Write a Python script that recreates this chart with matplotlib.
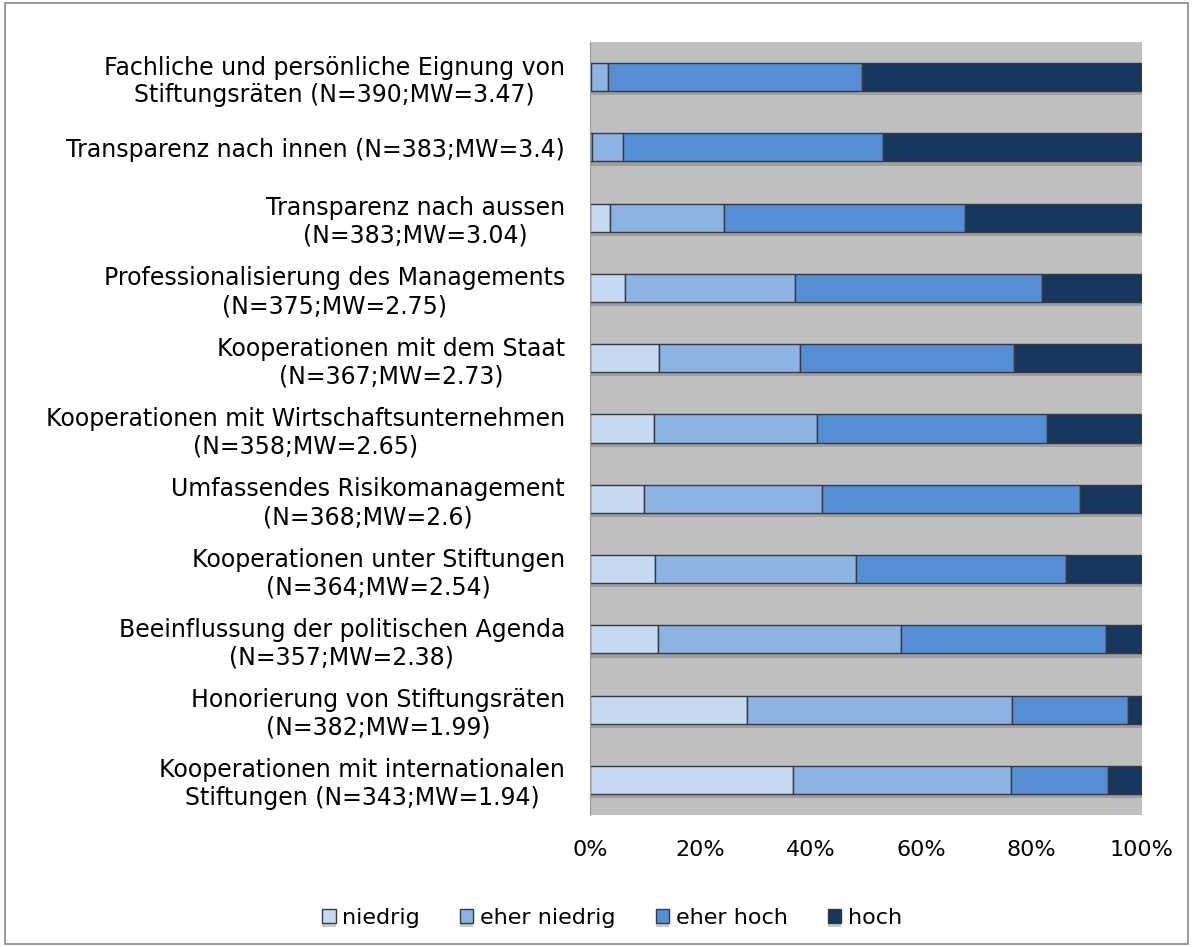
import numpy as np
import matplotlib
matplotlib.use('Agg')
import matplotlib.pyplot as plt
import matplotlib.patheffects as pe
from matplotlib.patches import Rectangle

# categories, top to bottom
labels = [
    "Fachliche und persönliche Eignung von\nStiftungsräten (N=390;MW=3.47)",
    "Transparenz nach innen (N=383;MW=3.4)",
    "Transparenz nach aussen\n(N=383;MW=3.04)",
    "Professionalisierung des Managements\n(N=375;MW=2.75)",
    "Kooperationen mit dem Staat\n(N=367;MW=2.73)",
    "Kooperationen mit Wirtschaftsunternehmen\n(N=358;MW=2.65)",
    "Umfassendes Risikomanagement\n(N=368;MW=2.6)",
    "Kooperationen unter Stiftungen\n(N=364;MW=2.54)",
    "Beeinflussung der politischen Agenda\n(N=357;MW=2.38)",
    "Honorierung von Stiftungsräten\n(N=382;MW=1.99)",
    "Kooperationen mit internationalen\nStiftungen (N=343;MW=1.94)",
]

# shares in percent
niedrig      = [0.2, 0.4, 3.6, 6.4, 12.5, 11.6, 9.7, 11.8, 12.3, 28.4, 36.7]
eher_niedrig = [3.0, 5.5, 20.6, 30.8, 25.6, 29.6, 32.3, 36.4, 44.0, 48.0, 39.6]
eher_hoch    = [46.1, 47.2, 43.8, 44.6, 38.8, 41.6, 46.8, 38.1, 37.1, 21.0, 17.6]
hoch         = [50.7, 46.9, 32.0, 18.2, 23.1, 17.2, 11.2, 13.7, 6.6, 2.6, 6.1]

series = [("niedrig", niedrig, "#c6d9f1"),
          ("eher niedrig", eher_niedrig, "#8db3e2"),
          ("eher hoch", eher_hoch, "#558ed5"),
          ("hoch", hoch, "#17375e")]

plt.rcParams['font.family'] = ['DejaVu Sans']

fig = plt.figure(figsize=(11.93, 9.47), dpi=100)
ax = fig.add_axes([590/1193, 1 - 815/947, 552/1193, 773/947])
ax.set_facecolor("#bfbfbf")

y = np.arange(len(labels))
left = np.zeros(len(labels))
shadow = [pe.withSimplePatchShadow(offset=(0, -3), shadow_rgbFace='#666666', alpha=0.35)]
for name, vals, col in series:
    vals = np.array(vals)
    ax.barh(y, vals, left=left, height=0.4, color=col, edgecolor="#333a44",
            linewidth=1.0, label=name, path_effects=shadow)
    left += vals

ax.set_ylim(len(labels) - 0.5, -0.5)
ax.set_xlim(0, 100)
ax.set_xticks([0, 20, 40, 60, 80, 100])
ax.set_xticklabels(["0%", "20%", "40%", "60%", "80%", "100%"], fontsize=16)
ax.set_yticks(y)
ax.set_yticklabels(labels, fontsize=17, ha='right', multialignment='center',
                   linespacing=1.2)
ax.tick_params(axis='both', length=0)
ax.tick_params(axis='x', pad=18)
ax.tick_params(axis='y', pad=18)
for s in ['top', 'right', 'bottom']:
    ax.spines[s].set_visible(False)
ax.spines['left'].set_color("#999999")

leg = fig.legend(loc='center', bbox_to_anchor=(612/1193, 1 - 918/947), ncol=4,
                 frameon=False, fontsize=16, handlelength=0.6, handleheight=0.6,
                 handletextpad=0.3, columnspacing=1.8)

fig.patches.append(Rectangle((0.004, 0.003), 0.992, 0.994, transform=fig.transFigure,
                             fill=False, edgecolor="#888888", linewidth=1.2))

fig.savefig("out.png", dpi=100)
